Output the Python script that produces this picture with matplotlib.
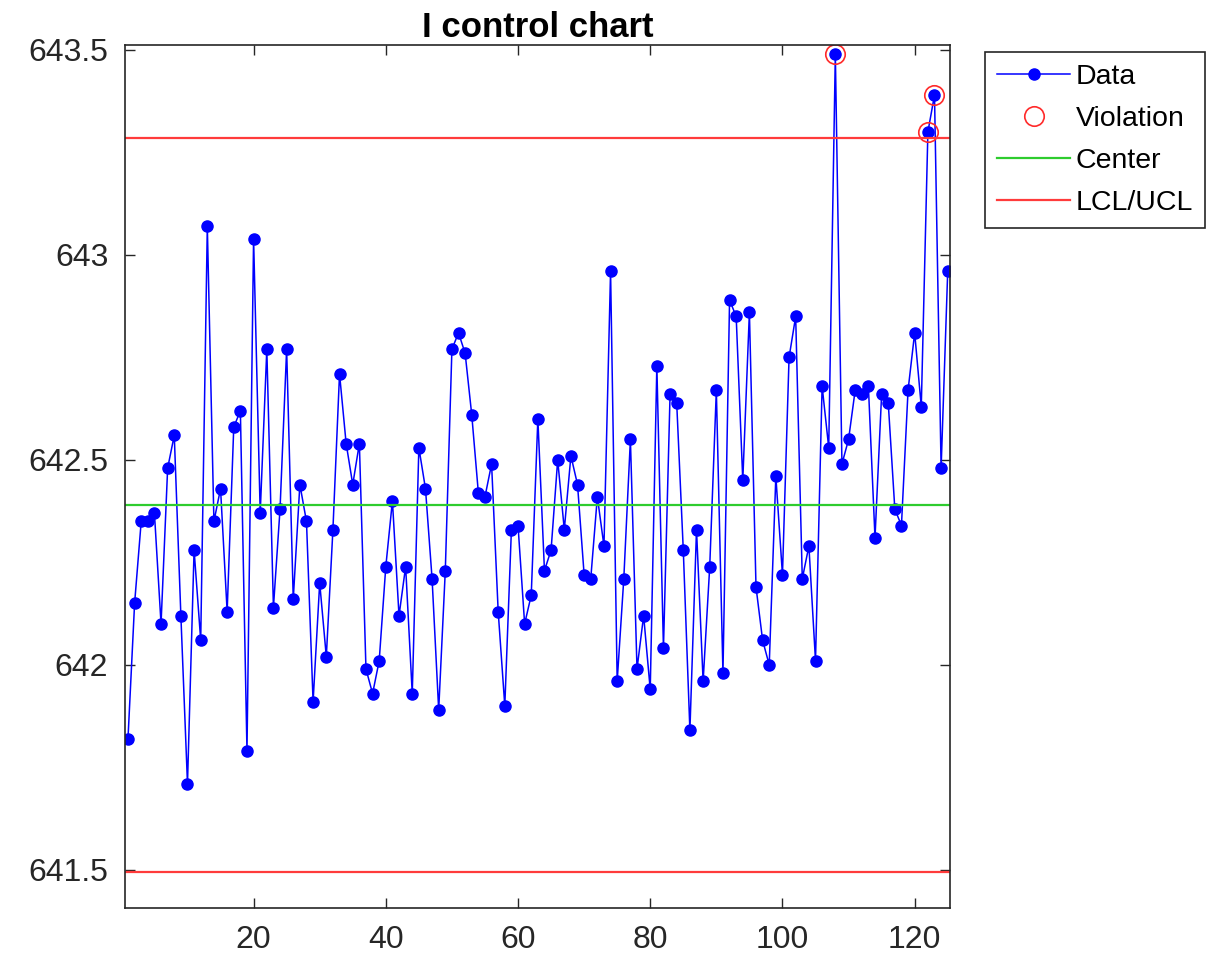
import matplotlib
matplotlib.use("Agg")
import matplotlib.pyplot as plt
import numpy as np

# measured values, one per sample (1..125)
values = [
    641.82, 642.15, 642.35, 642.35, 642.37, 642.10, 642.48, 642.56, 642.12, 641.71,
    642.28, 642.06, 643.07, 642.35, 642.43, 642.13, 642.58, 642.62, 641.79, 643.04,
    642.37, 642.77, 642.14, 642.38, 642.77, 642.16, 642.44, 642.35, 641.91, 642.20,
    642.02, 642.33, 642.71, 642.54, 642.44, 642.54, 641.99, 641.93, 642.01, 642.24,
    642.40, 642.12, 642.24, 641.93, 642.53, 642.43, 642.21, 641.89, 642.23, 642.77,
    642.81, 642.76, 642.61, 642.42, 642.41, 642.49, 642.13, 641.90, 642.33, 642.34,
    642.10, 642.17, 642.60, 642.23, 642.28, 642.50, 642.33, 642.51, 642.44, 642.22,
    642.21, 642.41, 642.29, 642.96, 641.96, 642.21, 642.55, 641.99, 642.12, 641.94,
    642.73, 642.04, 642.66, 642.64, 642.28, 641.84, 642.33, 641.96, 642.24, 642.67,
    641.98, 642.89, 642.85, 642.45, 642.86, 642.19, 642.06, 642.00, 642.46, 642.22,
    642.75, 642.85, 642.21, 642.29, 642.01, 642.68, 642.53, 643.49, 642.49, 642.55,
    642.67, 642.66, 642.68, 642.31, 642.66, 642.64, 642.38, 642.34, 642.67, 642.81,
    642.63, 643.30, 643.39, 642.48, 642.96,
]
center = 642.39
ucl = 643.285
lcl = 641.495

x_ticks = [20, 40, 60, 80, 100, 120]
y_ticks = [641.5, 642, 642.5, 643, 643.5]
y_labels = ["641.5", "642", "642.5", "643", "643.5"]

x = np.arange(1, len(values) + 1)
y = np.array(values)
bad = (y > ucl) | (y < lcl)

plt.rcParams['font.family'] = ['Liberation Sans', 'DejaVu Sans']

fig = plt.figure(figsize=(12.09, 9.59), dpi=100)
ax = fig.add_axes([0.1034, 0.0532, 0.6824, 0.8998])

ax.plot(x, y, '-o', color='blue', lw=1.1, ms=8, mfc='blue', mec='blue', label='Data')
ax.plot(x[bad], y[bad], 'o', ms=14, mfc='none', mec='#ff2a2a', mew=1.2, label='Violation')
ax.axhline(center, color='#2ecc2e', lw=1.6, label='Center')
ax.axhline(ucl, color='#ff3b3b', lw=1.6, label='LCL/UCL')
ax.axhline(lcl, color='#ff3b3b', lw=1.6)

ax.set_xlim(0.55, 125.35)
ax.set_ylim(641.407, 643.512)
ax.set_xticks(x_ticks)
ax.set_yticks(y_ticks)
ax.set_yticklabels(y_labels)
ax.tick_params(direction='in', top=True, right=True, length=7, width=1,
               labelsize=23, colors='#262626', pad=12)
for s in ax.spines.values():
    s.set_color('#262626')
    s.set_linewidth(1.2)

ax.set_title("I control chart", fontsize=25, fontweight='bold', pad=6)

leg = ax.legend(loc='upper left', bbox_to_anchor=(0.815, 0.946),
                bbox_transform=fig.transFigure, fontsize=20.5, frameon=True,
                fancybox=False, framealpha=1, edgecolor='#262626',
                handlelength=2.55, handletextpad=0.2, labelspacing=0.56,
                borderpad=0.42, borderaxespad=0)
leg.get_frame().set_linewidth(1.2)

fig.savefig("out.png", dpi=100)
